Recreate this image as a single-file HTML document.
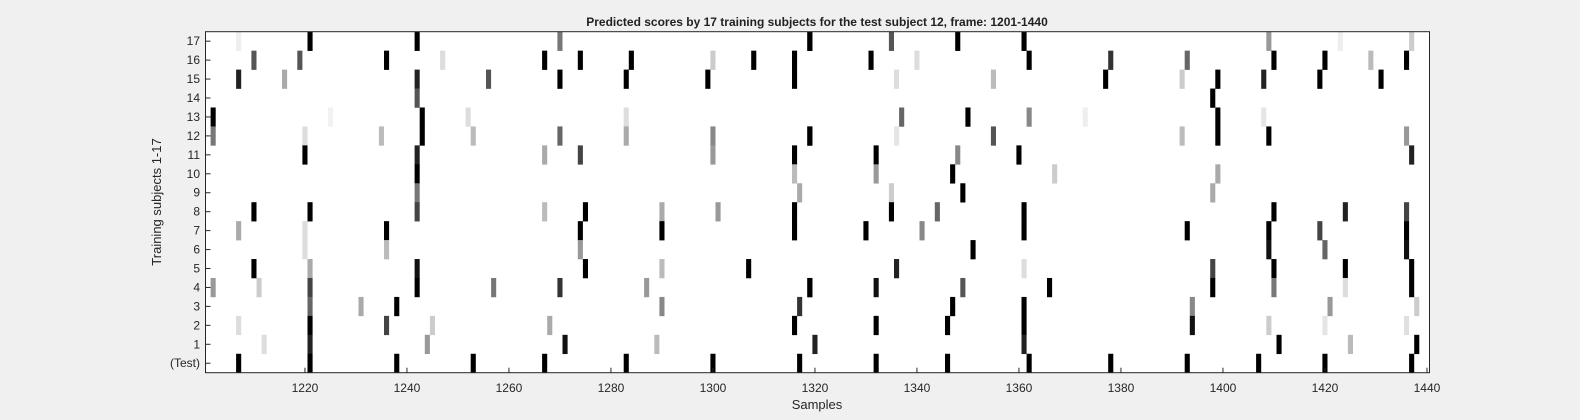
<!DOCTYPE html>
<html><head><meta charset="utf-8">
<style>
html,body{margin:0;padding:0;background:#f0f0f0;}
svg{display:block;font-family:"Liberation Sans",Arial,sans-serif;}
</style></head>
<body>
<svg id="chart" width="1580" height="420" viewBox="0 0 1580 420" xmlns="http://www.w3.org/2000/svg">
<rect x="0" y="0" width="1580" height="420" fill="#f0f0f0"/>
<text x="817" y="26" text-anchor="middle" font-size="12" font-weight="bold" fill="#222">Predicted scores by 17 training subjects for the test subject 12, frame: 1201-1440</text>
<rect x="205.5" y="31.7" width="1224" height="341" fill="#ffffff"/>
<g id="cells"></g>
<rect x="205.5" y="31.7" width="1224" height="341" fill="none" stroke="#262626" stroke-width="1"/>
<g id="xaxis"></g>
<g id="yaxis"></g>
<text x="817" y="409" text-anchor="middle" font-size="13" fill="#262626">Samples</text>
<text transform="translate(161,202) rotate(-90)" text-anchor="middle" font-size="13" fill="#262626">Training subjects 1-17</text>
</svg>
<script>
const rowLabels = ["17","16","15","14","13","12","11","10","9","8","7","6","5","4","3","2","1","(Test)"];
const xTicks = [1220,1240,1260,1280,1300,1320,1340,1360,1380,1400,1420,1440];
const barRow = [
0,0,0, 1,1,1,1, 2,2,2,2, 3, 4,4,4,4, 5,5,5,5,5, 6,6, 7, 8, 9,9,9, 10,10,10, 11,11, 12,12,12, 13,13,13,13,13, 14,14,14, 15,15,15,15, 16,16,16, 17,17,17,17,
0,0, 1,1,1,1,1,1, 2,2,2,2, 4, 5,5,5,5, 6,6,6,6, 7, 8, 9,9,9,9,9, 10,10,10, 11, 12,12,12, 13,13,13, 14,14, 15,15, 16,16, 17,17,17,17,
0,0,0,0, 1,1,1, 2,2,2, 4,4,4,4, 5,5,5, 6,6,6, 7,7,7, 8,8, 9,9,9, 10,10,10, 11, 12,12, 13,13,13,13, 14,14, 15,15,15, 16,16, 17,17,17,
0,0,0, 1,1,1,1,1,1, 2,2,2,2,2, 3, 4,4, 5,5,5,5, 6, 7, 8, 9,9,9, 10,10,10,10, 11,11,11, 12,12,12,12, 13,13,13,13, 14,14,14, 15,15,15,15, 16,16,16, 17,17,17,17,17
];
const barSample = [
1207,1221,1242, 1210,1219,1236,1247, 1207,1216,1242,1256, 1242, 1202,1225,1243,1252, 1202,1220,1235,1243,1253, 1220,1242, 1242, 1242, 1210,1221,1242, 1207,1220,1236, 1220,1236, 1210,1221,1242, 1202,1211,1221,1242,1257, 1221,1231,1238, 1207,1221,1236,1245, 1212,1221,1244, 1207,1221,1238,1253,
1270,1319, 1267,1274,1284,1300,1308,1316, 1270,1283,1299,1316, 1283, 1270,1283,1300,1319, 1267,1274,1300,1316, 1316, 1317, 1267,1275,1290,1301,1316, 1274,1290,1316, 1274, 1275,1290,1307, 1270,1287,1319, 1290,1317, 1268,1316, 1271,1289, 1267,1283,1300,1317,
1319,1335,1348,1361, 1331,1340,1362, 1336,1355,1377, 1337,1350,1362,1373, 1319,1336,1355, 1332,1348,1360, 1332,1347,1367, 1335,1349, 1335,1344,1361, 1330,1341,1361, 1351, 1336,1361, 1319,1332,1349,1366, 1347,1361, 1332,1346,1361, 1320,1361, 1332,1346,1362,
1409,1423,1437, 1378,1393,1410,1420,1429,1436, 1392,1399,1408,1419,1431, 1398, 1399,1408, 1392,1399,1409,1436, 1437, 1399, 1398, 1410,1424,1436, 1393,1409,1419,1436, 1409,1420,1436, 1398,1410,1424,1437, 1398,1410,1424,1437, 1394,1421,1438, 1394,1409,1420,1436, 1411,1425,1438, 1378,1393,1407,1420,1437
];
const barGray = [
238,0,0, 85,85,0,221, 34,170,34,85, 85, 0,242,0,221, 119,221,187,0,187, 0,34, 0, 119, 0,0,68, 170,221,0, 221,187, 0,170,17, 153,204,68,0,119, 102,170,0, 221,0,68,204, 221,34,153, 0,0,0,0,
119,0, 0,0,0,204,0,0, 0,0,0,0, 221, 102,170,136,0, 170,68,153,0, 187, 170, 187,0,170,153,0, 0,0,0, 153, 0,187,0, 51,153,0, 136,51, 170,0, 17,187, 0,0,0,0,
0,85,0,0, 0,221,0, 221,187,0, 102,0,136,238, 0,229,85, 0,136,0, 153,0,204, 204,0, 0,102,0, 0,136,0, 0, 34,221, 0,17,85,0, 0,0, 0,0,0, 34,34, 0,0,0,
153,238,204, 51,102,0,0,187,0, 204,0,34,0,0, 0, 0,229, 187,0,0,153, 34, 170, 170, 0,34,68, 0,0,68,0, 17,102,17, 68,0,0,0, 0,119,221,0, 136,153,204, 17,204,229,224, 0,187,0, 0,0,0,0,0
];

const NS = "http://www.w3.org/2000/svg";
const plotL = 205.5, plotR = 1429.5, plotT = 31.7, plotB = 372.7;
const xMin = 1200.5, xMax = 1440.5;
const pxPerSample = (plotR - plotL) / (xMax - xMin);
function xScale(s){ return plotL + (s - xMin) * pxPerSample; }
const rowH = (plotB - plotT) / rowLabels.length;
function yScale(r){ return plotT + r * rowH; }

const cells = document.getElementById('cells');
for (let i = 0; i < barSample.length; i++) {
  let x0 = xScale(barSample[i]) - pxPerSample / 2;
  let x1 = x0 + pxPerSample;
  x0 = Math.max(x0, plotL); x1 = Math.min(x1, plotR);
  if (x1 <= x0) continue;
  const g = barGray[i];
  const r = document.createElementNS(NS, 'rect');
  
  
  r.setAttribute('x', x0);
  r.setAttribute('y', yScale(barRow[i]));
  r.setAttribute('width', x1 - x0);
  r.setAttribute('height', rowH + 0.3);
  r.setAttribute('fill', 'rgb(' + g + ',' + g + ',' + g + ')');
  cells.appendChild(r);
}

const xaxis = document.getElementById('xaxis');
xTicks.forEach(t => {
  const x = xScale(t);
  const ln = document.createElementNS(NS, 'line');
  
  
  ln.setAttribute('x1', x); ln.setAttribute('x2', x);
  ln.setAttribute('y1', plotB); ln.setAttribute('y2', plotB - 5);
  ln.setAttribute('stroke', '#262626');
  xaxis.appendChild(ln);
  const tx = document.createElementNS(NS, 'text');
  
  
  tx.setAttribute('x', x); tx.setAttribute('y', 392);
  tx.setAttribute('text-anchor', 'middle');
  tx.setAttribute('font-size', '12');
  tx.setAttribute('fill', '#262626');
  tx.textContent = t;
  xaxis.appendChild(tx);
});

const yaxis = document.getElementById('yaxis');
rowLabels.forEach((lab, r) => {
  const y = yScale(r) + rowH / 2;
  const ln = document.createElementNS(NS, 'line');
  
  
  ln.setAttribute('x1', plotL); ln.setAttribute('x2', plotL + 5);
  ln.setAttribute('y1', y); ln.setAttribute('y2', y);
  ln.setAttribute('stroke', '#262626');
  yaxis.appendChild(ln);
  const tx = document.createElementNS(NS, 'text');
  
  
  tx.setAttribute('x', 200); tx.setAttribute('y', y + 4);
  tx.setAttribute('text-anchor', 'end');
  tx.setAttribute('font-size', '12');
  tx.setAttribute('fill', '#262626');
  tx.textContent = lab;
  yaxis.appendChild(tx);
});
</script>
</body></html>
